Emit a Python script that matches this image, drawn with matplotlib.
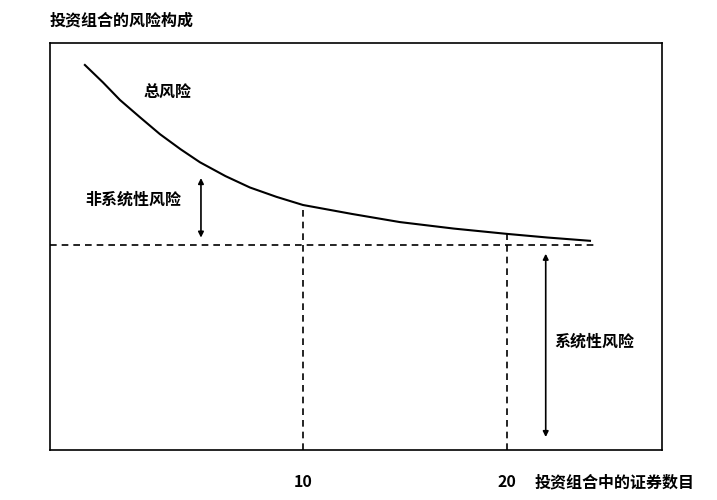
import matplotlib
matplotlib.use("Agg")
import matplotlib.pyplot as plt

plt.rcParams['font.family'] = ['Noto Sans CJK SC', 'DejaVu Sans']

curve_x = [-0.69, 0.2, 1.03, 2.0, 2.99, 4.0, 4.95, 6.2, 7.4, 8.7, 10.0, 12.4, 14.75, 17.4, 20.0, 22.0, 24.07]
curve_y = [94.6, 90.3, 86.0, 81.8, 77.6, 73.9, 70.7, 67.3, 64.5, 62.2, 60.2, 58.0, 56.0, 54.4, 53.1, 52.2, 51.4]
systematic = 50.4
ticks = [10, 20]
tick_labels = ["10", "20"]

fig = plt.figure(figsize=(7.17, 5.0), dpi=100)
ax = fig.add_axes([50/717, 50/500, 612/717, 407/500])
ax.set_xlim(-2.4, 27.6)
ax.set_ylim(0, 100)

ax.plot(curve_x, curve_y, color='black', lw=1.5)
ax.plot([-2.4, 24.3], [systematic, systematic], color='black', lw=1.2, ls=(0, (4, 3)))
ax.plot([10, 10], [0, 60.2], color='black', lw=1.2, ls=(0, (4, 3)))
ax.plot([20, 20], [0, 53.1], color='black', lw=1.2, ls=(0, (4, 3)))

ax.annotate('', xy=(5.0, 51.5), xytext=(5.0, 67.5),
            arrowprops=dict(arrowstyle='<|-|>', color='black', lw=1.2, mutation_scale=8))
ax.annotate('', xy=(21.9, 2.5), xytext=(21.9, 48.9),
            arrowprops=dict(arrowstyle='<|-|>', color='black', lw=1.2, mutation_scale=8))

kw = dict(fontsize=11.5, fontweight='bold')
ax.text(2.2, 87.8, "总风险", ha='left', va='center', **kw)
ax.text(1.7, 61.4, "非系统性风险", ha='center', va='center', **kw)
ax.text(22.3, 26.5, "系统性风险", ha='left', va='center', **kw)

ax.set_xticks(ticks)
ax.set_xticklabels(tick_labels, fontsize=11.5, fontweight='bold')
ax.tick_params(axis='x', length=0, pad=17)
ax.set_yticks([])
for s in ax.spines.values():
    s.set_linewidth(1.2)

fig.text(615/717, 18/500, "投资组合中的证券数目", ha='center', va='center', **kw)
fig.text(50/717, 480/500, "投资组合的风险构成", ha='left', va='center', **kw)

fig.savefig("out.png", dpi=100)
